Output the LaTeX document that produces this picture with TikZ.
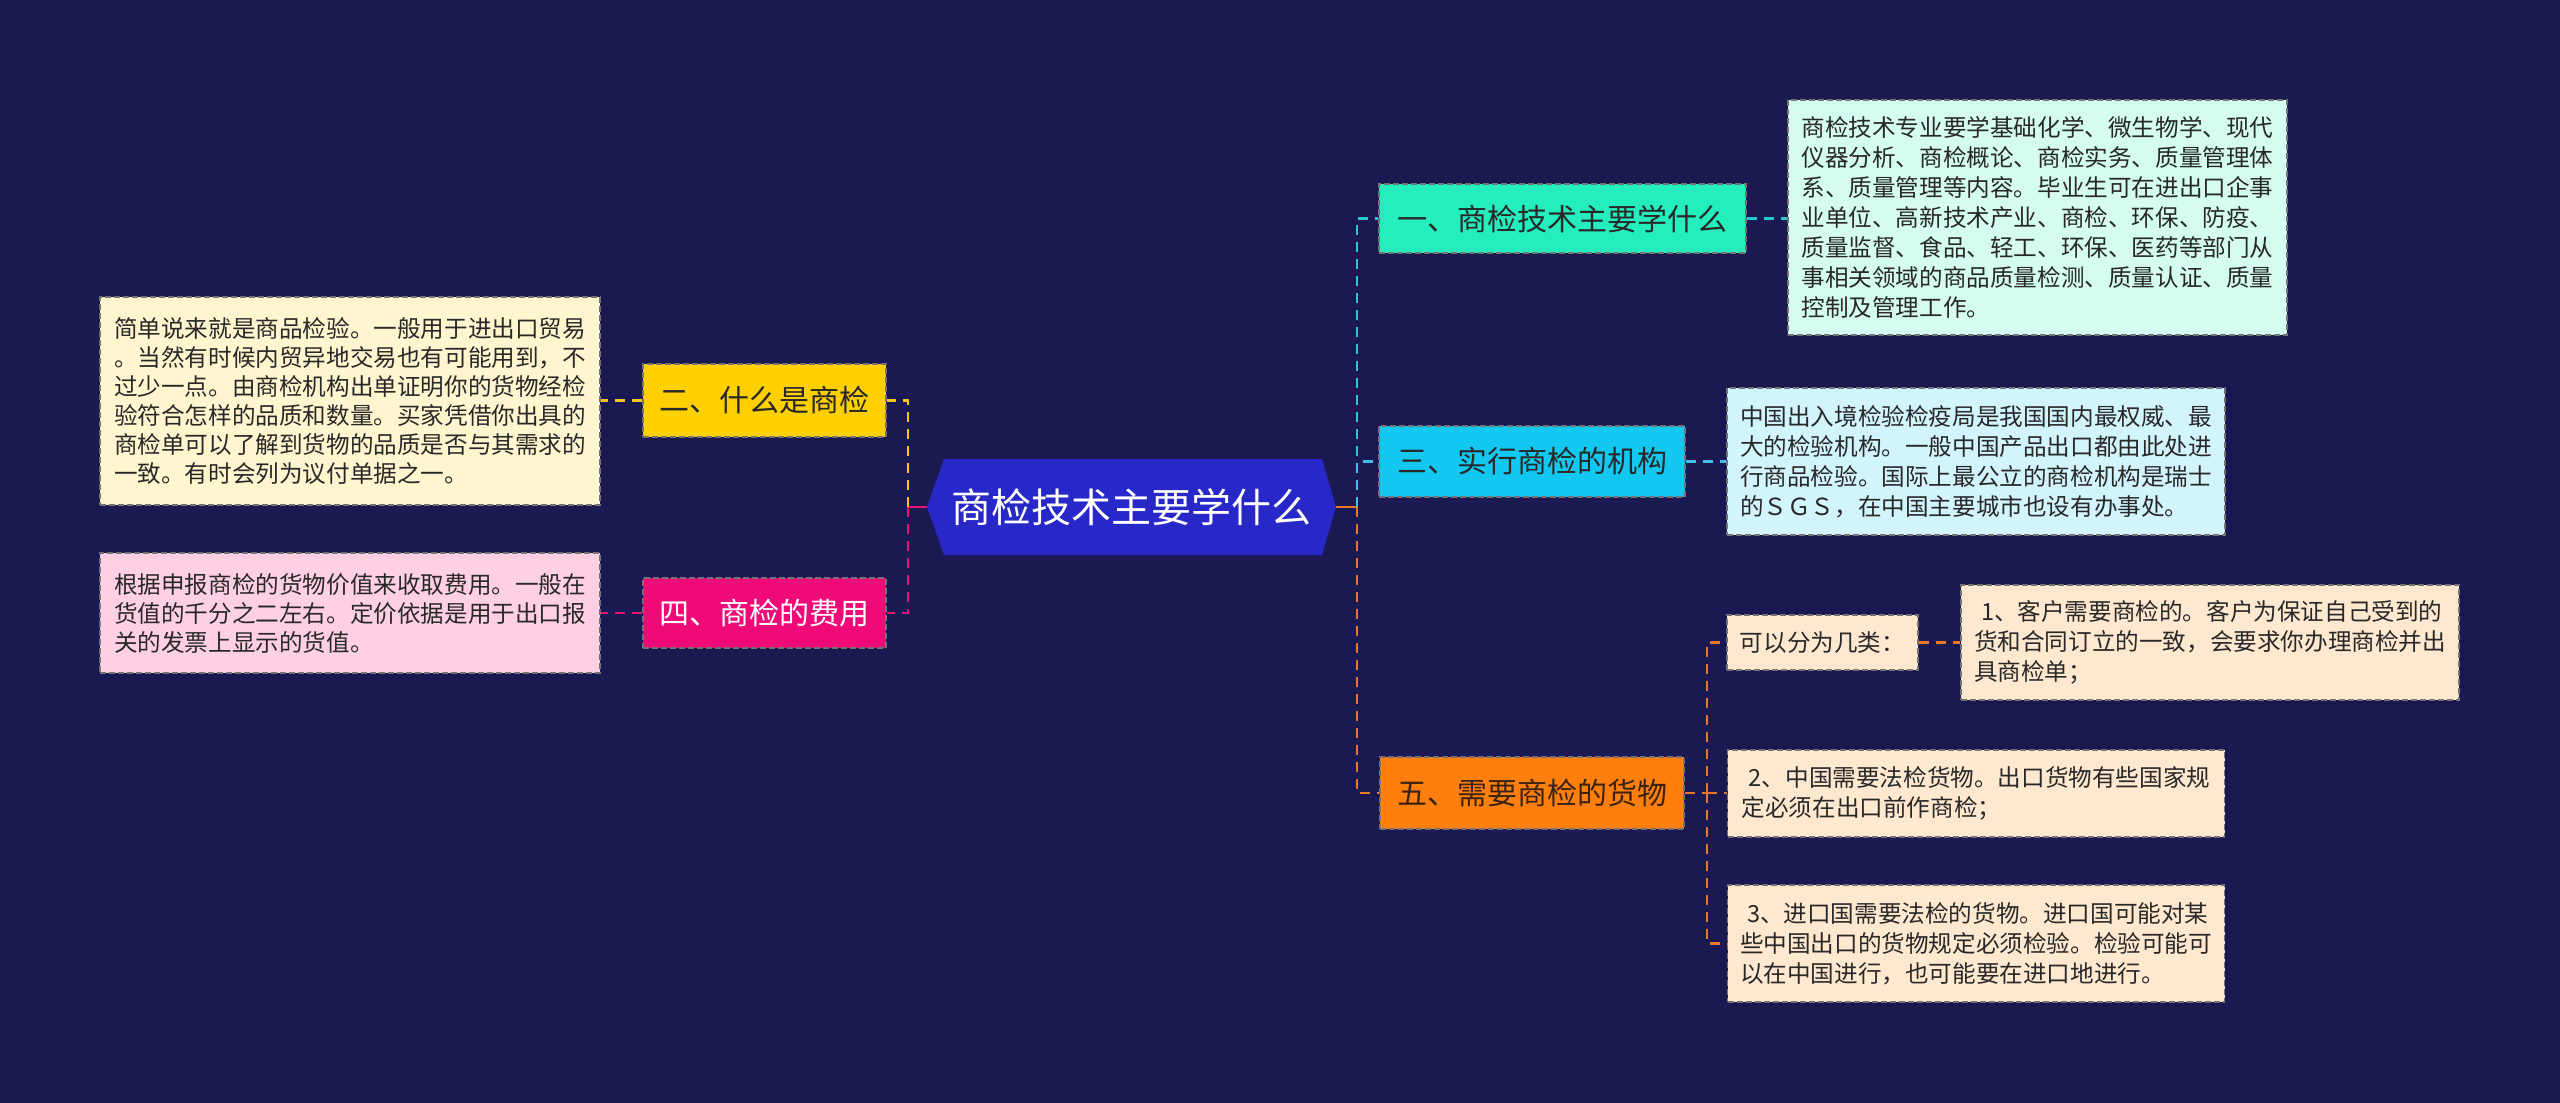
\documentclass[tikz,border=0pt]{standalone}
\usepackage{fontspec}
\setmainfont{Noto Sans CJK SC}
\definecolor{bg}{RGB}{27,25,82}
\definecolor{hexfill}{RGB}{40,40,200}
\definecolor{fA}{RGB}{36,238,190}
\definecolor{fB}{RGB}{255,208,0}
\definecolor{fC}{RGB}{18,200,240}
\definecolor{fD}{RGB}{240,10,120}
\definecolor{fE}{RGB}{255,127,14}
\definecolor{lA}{RGB}{212,252,240}
\definecolor{lB}{RGB}{255,246,208}
\definecolor{lC}{RGB}{210,244,252}
\definecolor{lD}{RGB}{255,208,228}
\definecolor{lE}{RGB}{255,232,208}
\definecolor{cA}{RGB}{40,200,210}
\definecolor{cB}{RGB}{240,200,20}
\definecolor{cC}{RGB}{70,190,230}
\definecolor{cD}{RGB}{230,20,120}
\definecolor{cE}{RGB}{230,120,40}
\definecolor{txt}{RGB}{40,40,40}
\begin{document}
\begin{tikzpicture}[x=0.5pt,y=-0.5pt,
  box/.style={draw=black!55, dash pattern=on 3pt off 1.5pt, line width=0.6pt, inner sep=0pt, text=txt},
  mainbox/.style={box, align=center, font=\fontsize{15}{18}\selectfont},
  leaf/.style={box, align=left, font=\fontsize{11.8}{15}\selectfont},
  con/.style={line width=1.3pt, dash pattern=on 5pt off 3.5pt},
  solidcon/.style={line width=1.3pt},
]
\fill[bg] (0,0) rectangle (2560,1103);
\useasboundingbox (0,0) rectangle (2560,1103);

% central hexagon
\fill[hexfill] (927,507) -- (944,459) -- (1322,459) -- (1336,507) -- (1322,555) -- (944,555) -- cycle;
\node[minimum width=204.5pt, minimum height=48pt, inner sep=0pt, text=white, font=\fontsize{20}{24}\selectfont] (c) at (1131.5,507) {商检技术主要学什么};

% branch boxes
\node[mainbox, fill=fA, minimum width=183.5pt, minimum height=34.5pt] (b1) at (1562.5,218.5) {一、商检技术主要学什么};
\node[mainbox, fill=fB, minimum width=121.5pt, minimum height=36.5pt] (b2) at (764.5,400.5) {二、什么是商检};
\node[mainbox, fill=fC, minimum width=153pt, minimum height=35.5pt] (b3) at (1532,461.5) {三、实行商检的机构};
\node[mainbox, fill=fD, text=white, minimum width=121.5pt, minimum height=35pt] (b4) at (764.5,613) {四、商检的费用};
\node[mainbox, fill=fE, text={rgb,255:red,60;green,35;blue,15}, minimum width=152pt, minimum height=36pt] (b5) at (1532,793) {五、需要商检的货物};

% leaves
\node[leaf, fill=lA, minimum width=249.5pt, minimum height=117.5pt] (l1) at (2037.5,217.5) {商检技术专业要学基础化学、微生物学、现代\\仪器分析、商检概论、商检实务、质量管理体\\系、质量管理等内容。毕业生可在进出口企事\\业单位、高新技术产业、商检、环保、防疫、\\质量监督、食品、轻工、环保、医药等部门从\\事相关领域的商品质量检测、质量认证、质量\\控制及管理工作。};
\node[leaf, fill=lB, minimum width=250pt, minimum height=104pt, font=\fontsize{11.8}{14.5}\selectfont] (l2) at (350,401) {简单说来就是商品检验。一般用于进出口贸易\\。当然有时候内贸异地交易也有可能用到，不\\过少一点。由商检机构出单证明你的货物经检\\验符合怎样的品质和数量。买家凭借你出具的\\商检单可以了解到货物的品质是否与其需求的\\一致。有时会列为议付单据之一。};
\node[leaf, fill=lC, minimum width=249pt, minimum height=73.5pt] (l3) at (1976,461.5) {中国出入境检验检疫局是我国国内最权威、最\\大的检验机构。一般中国产品出口都由此处进\\行商品检验。国际上最公立的商检机构是瑞士\\的ＳＧＳ，在中国主要城市也设有办事处。};
\node[leaf, fill=lD, minimum width=250pt, minimum height=60pt, font=\fontsize{11.8}{14.5}\selectfont] (l4) at (350,613) {根据申报商检的货物价值来收取费用。一般在\\货值的千分之二左右。定价依据是用于出口报\\关的发票上显示的货值。};
\node[leaf, fill=lE, minimum width=95.5pt, minimum height=27.5pt] (k) at (1822.5,642.5) {可以分为几类：};
\node[leaf, fill=lE, minimum width=249pt, minimum height=57.5pt] (l51) at (2210,642.5) {\hspace{0.3em}1、客户需要商检的。客户为保证自己受到的\\货和合同订立的一致，会要求你办理商检并出\\具商检单；};
\node[leaf, fill=lE, minimum width=248.5pt, minimum height=43.5pt] (l52) at (1976,793.5) {\hspace{0.3em}2、中国需要法检货物。出口货物有些国家规\\定必须在出口前作商检；};
\node[leaf, fill=lE, minimum width=248.5pt, minimum height=58.5pt] (l53) at (1976,943.5) {\hspace{0.3em}3、进口国需要法检的货物。进口国可能对某\\些中国出口的货物规定必须检验。检验可能可\\以在中国进行，也可能要在进口地进行。};

% spines
\coordinate (ls) at (908,507);
\coordinate (rs) at (1357,507);
\coordinate (fs) at (1707,793);

\draw[cD, solidcon] (c.west) -- (ls);
\draw[cE, solidcon] (c.east) -- (rs);
\draw[cB, con] (ls) |- (b2.east);
\draw[cD, con] (ls) |- (b4.east);
\draw[cA, con] (rs) |- (b1.west);
\draw[cC, con] (rs) |- (b3.west);
\draw[cE, con] (rs) |- (b5.west);

\draw[cA, con] (b1.east) -- (b1.east -| l1.west);
\draw[cC, con] (b3.east) -- (l3.west);
\draw[cB, con] (b2.west) -- (b2.west -| l2.east);
\draw[cD, con] (b4.west) -- (l4.east);
\draw[cE, con] (b5.east) -- (fs);
\draw[cE, con] (fs) |- (k.west);
\draw[cE, con] (fs) |- (l53.west);
\draw[cE, con] (fs) -- (fs -| l52.west);
\draw[cE, con] (k.east) -- (l51.west);
\end{tikzpicture}
\end{document}
